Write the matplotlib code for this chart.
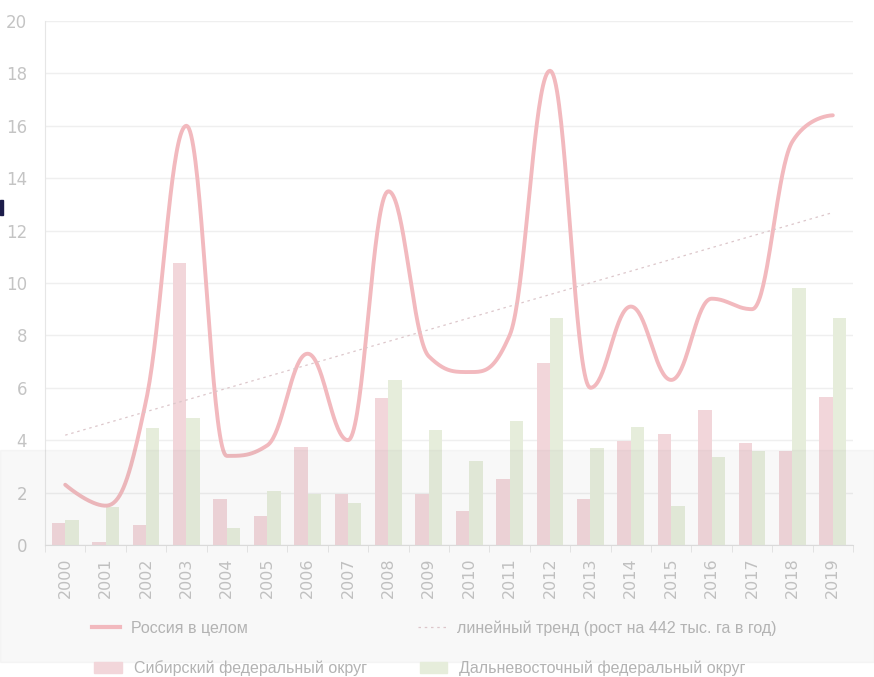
import numpy as np
import matplotlib
matplotlib.use("Agg")
import matplotlib.pyplot as plt
from matplotlib.patches import Rectangle
from matplotlib.lines import Line2D

years = list(range(2000, 2020))
russia = [2.3, 1.5, 5.5, 16.0, 3.4, 3.8, 7.3, 4.0, 13.5, 7.2,
          6.6, 8.0, 18.1, 6.0, 9.1, 6.3, 9.4, 9.0, 15.4, 16.4]
siberia = [0.85, 0.12, 0.75, 10.75, 1.75, 1.1, 3.75, 1.95, 5.6, 1.95,
           1.3, 2.5, 6.95, 1.75, 3.95, 4.25, 5.15, 3.9, 3.6, 5.65]
far_east = [0.95, 1.45, 4.45, 4.85, 0.65, 2.05, 1.95, 1.6, 6.3, 4.4,
            3.2, 4.75, 8.65, 3.7, 4.5, 1.5, 3.35, 3.6, 9.8, 8.65]

labels = ["Россия в целом", "линейный тренд (рост на 442 тыс. га в год)",
          "Сибирский федеральный округ", "Дальневосточный федеральный округ"]

c_line = "#f2b9be"
c_sib = "#f2d6da"
c_fe = "#e6eddb"
c_trend = "#dcc6ca"
c_text = "#c4c4c4"
c_grid = "#efefef"


def spline(x, y, n=40):
    # highcharts-like spline through the points (drawing only)
    x = np.asarray(x, float)
    y = np.asarray(y, float)
    m = len(x)
    lc = np.column_stack([x, y]).copy()
    rc = np.column_stack([x, y]).copy()
    for i in range(1, m - 1):
        lx = (1.5 * x[i] + x[i - 1]) / 2.5
        ly = (1.5 * y[i] + y[i - 1]) / 2.5
        rx = (1.5 * x[i] + x[i + 1]) / 2.5
        ry = (1.5 * y[i] + y[i + 1]) / 2.5
        corr = (ry - ly) * (rx - x[i]) / (rx - lx) + y[i] - ry
        ly += corr
        ry += corr
        if ly > y[i - 1] and ly > y[i]:
            ly = max(y[i - 1], y[i]); ry = 2 * y[i] - ly
        elif ly < y[i - 1] and ly < y[i]:
            ly = min(y[i - 1], y[i]); ry = 2 * y[i] - ly
        if ry > y[i + 1] and ry > y[i]:
            ry = max(y[i + 1], y[i]); ly = 2 * y[i] - ry
        elif ry < y[i + 1] and ry < y[i]:
            ry = min(y[i + 1], y[i]); ly = 2 * y[i] - ry
        lc[i] = lx, ly
        rc[i] = rx, ry
    t = np.linspace(0, 1, n)[:, None]
    pts = []
    for i in range(m - 1):
        p0 = np.array([x[i], y[i]])
        p3 = np.array([x[i + 1], y[i + 1]])
        p1, p2 = rc[i], lc[i + 1]
        seg = ((1 - t) ** 3) * p0 + 3 * ((1 - t) ** 2) * t * p1 \
            + 3 * (1 - t) * t ** 2 * p2 + t ** 3 * p3
        pts.append(seg if i == 0 else seg[1:])
    pts = np.vstack(pts)
    return pts[:, 0], pts[:, 1]


fig = plt.figure(figsize=(8.74, 6.77), dpi=100)
ax = fig.add_axes([0.0515, 0.195, 0.9245, 0.774])

x = np.arange(len(years))
w = 0.33
ax.bar(x - w / 2, siberia, width=w, color=c_sib, zorder=2)
ax.bar(x + w / 2, far_east, width=w, color=c_fe, zorder=2)

sx, sy = spline(x, russia)
ax.plot(sx, sy, color=c_line, lw=2.8, zorder=3, solid_capstyle="round")

k, b = np.polyfit(x, russia, 1)
ax.plot([x[0], x[-1]], [b, k * x[-1] + b], color=c_trend, lw=0.9,
        ls=(0, (2, 3)), zorder=3)

ax.set_xlim(-0.5, len(years) - 0.5)
ax.set_ylim(0, 20)
ax.set_yticks(range(0, 21, 2))
ax.set_xticks(x)
ax.set_xticklabels(years, rotation=90, fontsize=11.5, color=c_text)
ax.tick_params(axis="y", length=0, labelsize=12, colors=c_text, pad=13)
ax.tick_params(axis="x", length=0, pad=9)
ax.set_xticks(np.arange(-0.5, len(years), 1), minor=True)
ax.tick_params(axis="x", which="minor", length=5, color="#e4e4e4")
ax.grid(axis="y", color=c_grid, lw=1)
ax.set_axisbelow(True)
for s in ["top", "right"]:
    ax.spines[s].set_visible(False)
ax.spines["left"].set_color("#e6e6e6")
ax.spines["bottom"].set_color("#e0e0e0")

# legend, one entry at a time to place them like the original
entries = [
    (Line2D([], [], color=c_line, lw=3), labels[0], 0.105, 0.072),
    (Line2D([], [], color=c_trend, lw=0.9, ls=(0, (2, 3))), labels[1], 0.478, 0.072),
    (Rectangle((0, 0), 1, 1, color=c_sib), labels[2], 0.108, 0.013),
    (Rectangle((0, 0), 1, 1, color=c_fe), labels[3], 0.480, 0.013),
]
for h, lab, lx, ly in entries:
    fig.legend([h], [lab], loc="center left", bbox_to_anchor=(lx, ly),
               frameon=False, prop={"family": "Liberation Sans", "size": 11.5},
               labelcolor="#b3b3b3",
               borderpad=0, borderaxespad=0, handlelength=1.75,
               handleheight=0.7, handletextpad=0.7)

# grey wash over the lower part of the screenshot
fig.patches.append(Rectangle((0, 0.022), 1, 0.313, transform=fig.transFigure,
                             color="#888888", alpha=0.06, zorder=5))
fig.patches.append(Rectangle((0, 0.682), 0.004, 0.022, transform=fig.transFigure,
                             color="#1c1c4a", zorder=6))

fig.savefig("out.png", dpi=100)
